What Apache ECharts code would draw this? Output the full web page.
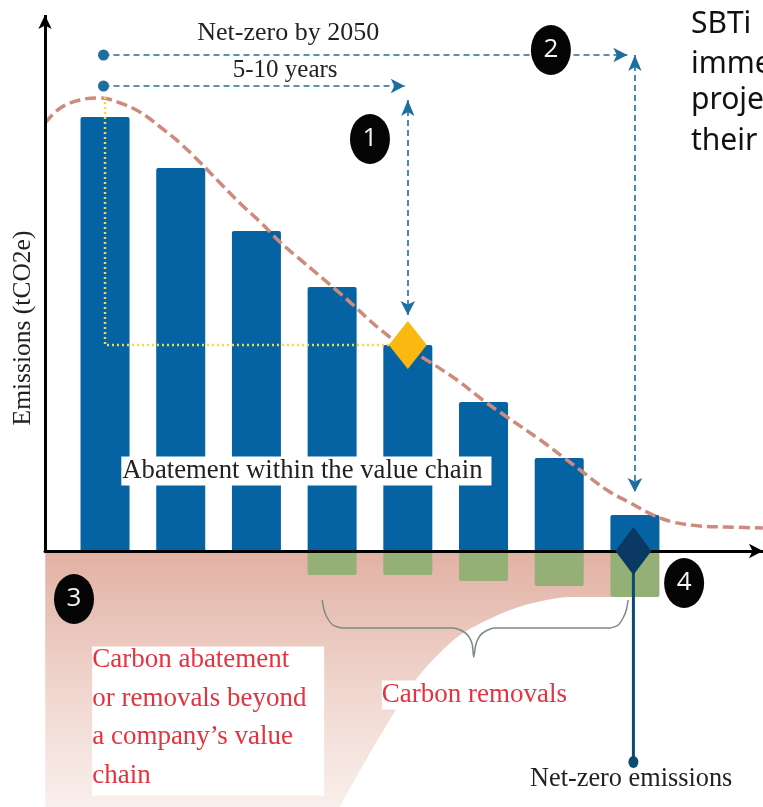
<!DOCTYPE html>
<html>
<head>
<meta charset="utf-8">
<title>Net-zero emissions</title>
<style>
  html, body { margin: 0; padding: 0; background: #fff; overflow: hidden; }
  #main { width: 763px; height: 807px; }
</style>
</head>
<body>
<div id="main"></div>
<script src="https://cdn.jsdelivr.net/npm/echarts@6/dist/echarts.min.js"></script>
<script>
// time steps run 0..7, emissions are in arbitrary units
const periods = [0, 1, 2, 3, 4, 5, 6, 7];
const emissions = [434, 383, 320, 264, 206, 149, 93, 36];
const removals = [null, null, null, -24, -24, -30, -35, -46];

const pathwayX = [-0.79, -0.59, -0.33, -0.07, 0.2, 0.46, 0.73, 0.99, 1.25, 1.52, 1.78, 2.05, 2.31, 2.54, 3.1, 3.76, 4.29, 4.65, 4.99, 5.31, 5.75, 6.05, 6.31, 6.63, 6.94, 7.24, 7.5, 7.86, 8.22, 8.69];
const pathwayY = [428, 443, 451, 453, 448, 439, 424, 408, 389, 368, 348, 329, 309, 294, 258, 214, 189, 171, 151, 134, 111, 94, 79, 61, 48, 36, 29, 25, 24, 23];

// the first points sit below the chart floor so the edge leaves the picture straight
const beyondX = [-0.79, 2.8, 3.1, 3.5, 3.76, 4.03, 4.33, 4.69, 5.05, 5.35, 5.71, 6.14, 6.63, 6.99];
const beyondY = [-300, -300, -256, -202, -169, -136, -109, -84, -69, -59, -51, -46, -46, -46];

const braceX = [2.87, 2.89, 2.93, 3.01, 3.14, 4.6, 4.72, 4.8, 4.85, 4.87, 4.9, 4.95, 5.03, 5.15, 6.67, 6.78, 6.85, 6.89, 6.91];
const braceY = [-49, -58, -66, -74, -77, -77, -80, -85, -93, -106, -93, -85, -80, -77, -77, -74, -66, -58, -49];

const stepNumbers = ['1', '2', '3', '4'];
const stepX = [3.5, 5.89, -0.41, 7.65];
const stepY = [412, 501, -48, -32];

const sideText = ['SBTi', 'imme', 'proje', 'their'];
const sideY = [527, 487, 451, 410];

const xMin = -0.793;
const xMax = 8.692;
const serif = '"Liberation Serif"';

function labelPoint(text, x, y, label) {
  return {
    type: 'scatter',
    z: 12,
    silent: true,
    clip: false,
    symbolSize: 0,
    itemStyle: { opacity: 1 },
    data: [[x, y]],
    label: Object.assign({
      show: true,
      formatter: text,
      position: 'inside',
      fontFamily: serif,
      fontSize: 26.5,
      color: '#222'
    }, label)
  };
}

function arrowLine(from, to, startSymbol) {
  return {
    type: 'line',
    z: 8,
    silent: true,
    data: [],
    markLine: {
      silent: true,
      animation: false,
      label: { show: false },
      lineStyle: { color: '#1c6f9f', width: 1.6, type: [6, 4] },
      data: [[
        { coord: from, symbol: startSymbol, symbolSize: startSymbol === 'circle' ? [11, 13] : [10, 16] },
        { coord: to, symbol: 'arrow', symbolSize: [11, 14] }
      ]]
    }
  };
}

const myChart = echarts.init(document.getElementById('main'), null, { renderer: 'canvas' });

const series = [
  {
    // area beyond the value chain, below the axis
    type: 'line',
    z: 1,
    silent: true,
    smooth: 0.3,
    symbol: 'none',
    lineStyle: { width: 0 },
    areaStyle: {
      opacity: 1,
      color: {
        type: 'linear', x: 0, y: 0, x2: 0, y2: 1,
        colorStops: [
          { offset: 0, color: '#e2b1a3' },
          { offset: 0.5, color: '#f1d9d2' },
          { offset: 1, color: '#fdf8f6' }
        ]
      }
    },
    data: beyondX.map((x, i) => [x, beyondY[i]])
  },
  {
    type: 'bar',
    z: 2,
    stack: 'total',
    barWidth: 49,
    itemStyle: { color: '#0563a3', borderRadius: [2, 2, 0, 0] },
    data: periods.map((p, i) => [p, emissions[i]])
  },
  {
    type: 'bar',
    z: 2,
    stack: 'total',
    barWidth: 49,
    itemStyle: { color: '#94b077', borderRadius: [0, 0, 2, 2] },
    data: periods.map((p, i) => [p, removals[i]]).filter(d => d[1] !== null)
  },
  {
    // brace over the removals
    type: 'line',
    z: 3,
    silent: true,
    smooth: 0.2,
    symbol: 'none',
    lineStyle: { color: '#7c8a85', width: 1.5 },
    data: braceX.map((x, i) => [x, braceY[i]])
  },
  {
    // emissions pathway
    type: 'line',
    z: 4,
    silent: true,
    smooth: 0.4,
    symbol: 'none',
    lineStyle: { color: '#cf8a7c', width: 3.5, type: [11, 5] },
    data: pathwayX.map((x, i) => [x, pathwayY[i]])
  },
  {
    // 5-10 year target guide
    type: 'line',
    z: 5,
    silent: true,
    symbol: 'none',
    lineStyle: { color: '#f4d83d', width: 2.5, type: [2, 3] },
    data: [[0, 454], [0, 206], [3.76, 206]]
  },
  {
    // net-zero drop line
    type: 'line',
    z: 6,
    silent: true,
    symbol: 'none',
    lineStyle: { color: '#0b4a74', width: 3 },
    data: [[6.98, 0], [6.98, -211]]
  },
  {
    type: 'scatter',
    z: 6,
    silent: true,
    symbol: 'circle',
    symbolSize: [10, 12],
    itemStyle: { color: '#0b4a74', opacity: 1 },
    data: [[6.98, -211]]
  },
  {
    type: 'scatter',
    z: 7,
    silent: true,
    symbol: 'diamond',
    symbolSize: [38, 48],
    itemStyle: { color: '#fbb811', opacity: 1 },
    data: [[4, 206]]
  },
  {
    type: 'scatter',
    z: 7,
    silent: true,
    symbol: 'diamond',
    symbolSize: [36, 48],
    itemStyle: { color: '#0a3a63', opacity: 1 },
    data: [[6.98, 0]]
  },
  {
    type: 'scatter',
    z: 9,
    silent: true,
    symbol: 'circle',
    symbolSize: [40, 50],
    itemStyle: { color: '#050505', opacity: 1 },
    label: {
      show: true,
      position: 'inside',
      formatter: p => p.data[2],
      color: '#f4f4f4',
      fontFamily: '"Open Sans"',
      fontSize: 26
    },
    data: stepNumbers.map((n, i) => [stepX[i], stepY[i], n])
  },
  arrowLine([-0.02, 496], [6.9, 496], 'circle'),
  arrowLine([-0.02, 465], [3.96, 465], 'circle'),
  arrowLine([4, 451], [4, 236], 'arrow'),
  arrowLine([7, 496], [7, 59], 'arrow'),
  {
    // y axis only runs above the baseline
    type: 'line',
    z: 10,
    silent: true,
    data: [],
    markLine: {
      silent: true,
      animation: false,
      label: { show: false },
      lineStyle: { color: '#000', width: 3, type: 'solid' },
      data: [[
        { coord: [xMin, 0], symbol: 'none' },
        { coord: [xMin, 536], symbol: 'arrow', symbolSize: [10, 14] }
      ]]
    }
  },
  labelPoint('Net-zero by 2050', 2.42, 518, { fontSize: 26 }),
  labelPoint('5-10 years', 2.38, 481, { fontSize: 25 }),
  labelPoint('Emissions (tCO2e)', -1.08, 223, { rotate: 90, fontSize: 25.5 }),
  labelPoint('Abatement within the value chain', 2.66, 80, { fontSize: 26.7, backgroundColor: '#fff', padding: [1, 9, 1, 1] }),
  labelPoint('Net-zero emissions', 6.95, -228, { fontSize: 26.3 }),
  labelPoint('Carbon removals', 4.88, -144, { fontSize: 27, color: '#e4333f', backgroundColor: '#fff', padding: [1, 0, 1, 0] }),
  // white box first, then the text on it, the text runs a little taller than the box
  labelPoint(' ', -0.17, -170, {
    backgroundColor: '#fff',
    align: 'left',
    width: 232,
    height: 149,
    verticalAlign: 'middle'
  }),
  labelPoint('Carbon abatement\nor removals beyond\na company\u2019s value\nchain', -0.17, -167, {
    fontSize: 27,
    color: '#e4333f',
    lineHeight: 38.5,
    align: 'left',
    verticalAlign: 'middle'
  })
].concat(sideText.map((t, i) => labelPoint(t, 7.74, sideY[i], {
  fontFamily: '"Noto Sans"',
  fontSize: 30,
  color: '#111',
  align: 'left'
})));

const option = {
  animation: false,
  backgroundColor: '#fff',
  grid: { left: 45, right: 0, top: 15, bottom: 0 },
  xAxis: {
    type: 'value',
    min: xMin,
    max: xMax,
    z: 5,
    splitLine: { show: false },
    axisTick: { show: false },
    axisLabel: { show: false },
    axisLine: {
      show: true,
      onZero: true,
      symbol: ['none', 'arrow'],
      symbolSize: [11, 14],
      lineStyle: { color: '#000', width: 3 }
    }
  },
  yAxis: {
    type: 'value',
    min: -256,
    max: 536,
    splitLine: { show: false },
    axisTick: { show: false },
    axisLabel: { show: false },
    axisLine: { show: false }
  },
  series: series
};

myChart.setOption(option);
</script>
</body>
</html>
